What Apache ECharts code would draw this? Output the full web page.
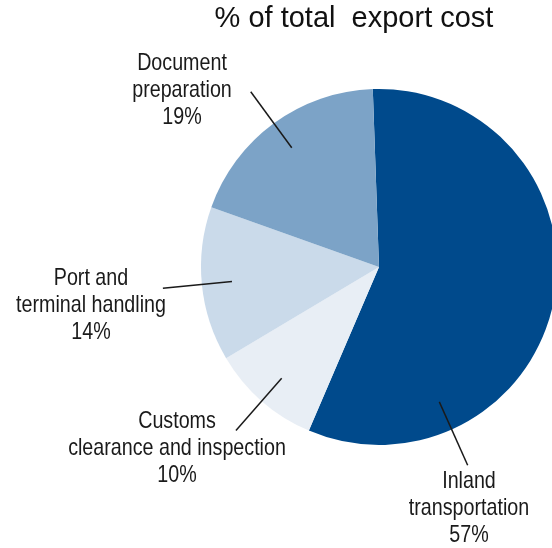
<!DOCTYPE html>
<html>
<head>
<meta charset="utf-8">
<script src="https://cdn.jsdelivr.net/npm/echarts@6/dist/echarts.min.js"></script>
<style>
  html, body { margin: 0; padding: 0; background: #fff; }
  #chart { width: 552px; height: 548px; }
</style>
</head>
<body>
<div id="chart"></div>
<script>
// Share of total export cost by cost component
const categories = ['Inland\ntransportation', 'Customs\nclearance and inspection', 'Port and\nterminal handling', 'Document\npreparation'];
const shares = [57, 10, 14, 19];
const sliceColors = ['#004a8c', '#e8eef5', '#cadaea', '#7ca3c7'];

// Label boxes (centre x, top y) and leader line angle override (degrees, null = slice middle)
const labelBoxes = [[469, 468], [177, 408], [91, 265], [182, 50]];
const leaderAngles = [-65.9, null, null, null];

const CX = 379, CY = 267, R = 178, START = 92;
const total = shares.reduce((a, b) => a + b, 0);

const graphics = [{
  type: 'text',
  silent: true,
  x: 354, y: 19,
  style: {
    text: '% of total  export cost',
    x: 0, y: 0,
    align: 'center', verticalAlign: 'middle',
    font: '29px "Liberation Sans", Arial, sans-serif',
    fill: '#111'
  }
}];

let acc = 0;
shares.forEach((v, i) => {
  const a0 = START - acc / total * 360;
  const a1 = START - (acc + v) / total * 360;
  acc += v;
  const mid = leaderAngles[i] != null ? leaderAngles[i] : (a0 + a1) / 2;
  const rad = mid * Math.PI / 180;
  const r1 = 0.83 * R, r2 = 1.22 * R;
  graphics.push({
    type: 'line', silent: true, z: 10,
    shape: {
      x1: CX + r1 * Math.cos(rad), y1: CY - r1 * Math.sin(rad),
      x2: CX + r2 * Math.cos(rad), y2: CY - r2 * Math.sin(rad)
    },
    style: { stroke: '#1a1a1a', lineWidth: 1.5 }
  });
  // condensed label text: regular face squeezed horizontally around its centre
  graphics.push({
    type: 'text', silent: true, z: 10,
    x: labelBoxes[i][0], y: labelBoxes[i][1],
    scaleX: 0.82,
    style: {
      text: categories[i] + '\n' + v + '%',
      x: 0, y: 0,
      align: 'center', verticalAlign: 'top',
      font: '24px "Liberation Sans", Arial, sans-serif',
      lineHeight: 27,
      fill: '#1a1a1a'
    }
  });
});

const chart = echarts.init(document.getElementById('chart'), null, { renderer: 'canvas' });
chart.setOption({
  animation: false,
  backgroundColor: '#fff',
  series: [{
    type: 'pie',
    center: [CX, CY],
    radius: R,
    startAngle: START,
    clockwise: true,
    silent: true,
    label: { show: false },
    labelLine: { show: false },
    itemStyle: { borderWidth: 0 },
    data: categories.map((name, i) => ({
      name, value: shares[i], itemStyle: { color: sliceColors[i] }
    }))
  }],
  graphic: graphics
});
</script>
</body>
</html>
